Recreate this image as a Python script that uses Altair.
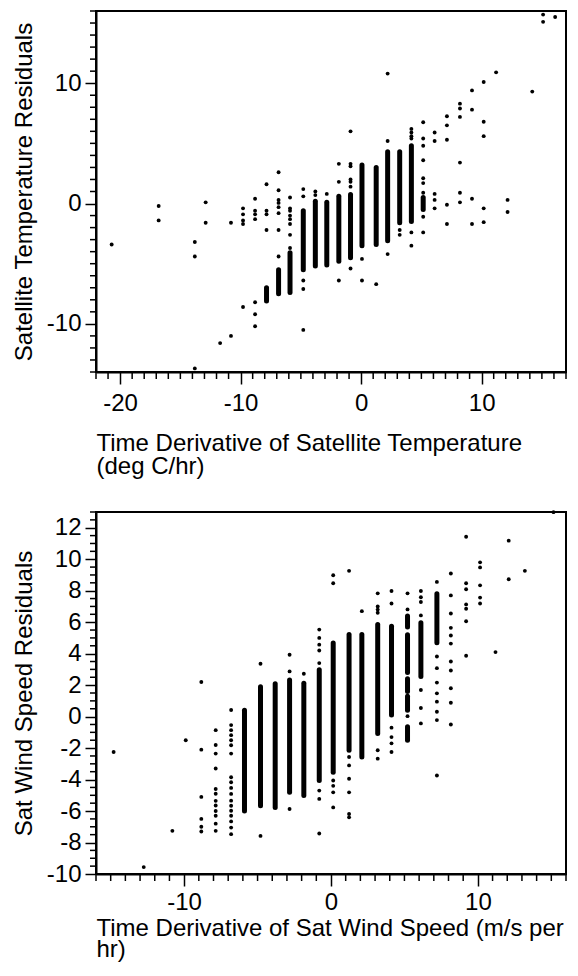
import altair as alt
import pandas as pd

FONT = "Liberation Sans"

# ---------------- Top panel: Satellite Temperature ----------------
# isolated points, grouped by column (x value, list of y values)
top_pt_x = [-20.7, -16.8, -13.8, -12.9, -11.7, -10.8, -9.8, -8.8, -7.85, -6.85,
            -5.9, -4.8, -3.8, -2.85, -1.85, -0.88, 0.07, 1.25, 2.2, 3.2,
            4.17, 5.15, 6.1, 7.12, 8.2, 9.2, 10.17, 11.2, 12.15, 14.2, 15.1, 16.1]
top_pt_y = [
    [-3.4],
    [-0.2, -1.4],
    [-3.2, -4.4, -13.7],
    [0.1, -1.6],
    [-11.6],
    [-1.6, -11.0],
    [-0.4, -0.9, -1.4, -1.7, -8.6],
    [0.4, -0.6, -0.9, -1.3, -8.2, -9.2, -10.2],
    [1.6, -0.6, -0.9, -2.2],
    [2.6, 1.1, 0.3, 0.05, -0.3, -0.8, -2.2, -4.4],
    [0.5, -0.4, -0.6, -1.0, -1.3, -1.7, -2.6, -3.7],
    [1.2, 0.6, -6.4, -7.1, -10.5],
    [1.0, 0.7],
    [0.8],
    [3.3, 1.8, -6.4],
    [6.0, 3.3, 3.1, 2.0, 1.8, 1.4, -5.4],
    [-4.6, -6.4],
    [-6.7],
    [10.8, 5.2, -4.2],
    [-2.2, -2.6],
    [6.2, 5.9, 5.6, 5.4, -2.4, -3.5],
    [6.75, 5.4, 4.8, 3.6, 2.1, 1.7, 0.9, -1.1, -2.4],
    [5.9, 5.2, 0.8, 0.3, -0.4],
    [7.25, 6.5, 5.3, -0.1, -1.7],
    [8.3, 7.9, 7.2, 3.4, 0.9, 0.1],
    [9.4, 7.8, 0.4, -1.7],
    [10.1, 6.8, 5.6, -0.4, -1.55],
    [10.9],
    [0.3, -0.7],
    [9.3],
    [15.7, 15.1],
    [15.5],
]
# dense vertical runs of points (x, top, bottom)
top_seg_x = [-7.85, -6.85, -5.9, -4.8, -3.8, -2.85, -1.85, -0.88, 0.07, 1.25, 2.2, 3.2, 4.17, 5.15]
top_seg_hi = [-7.0, -5.5, -4.1, -0.6, 0.2, 0.1, 0.6, 0.75, 3.2, 3.0, 4.3, 4.3, 4.8, 0.5]
top_seg_lo = [-8.1, -7.5, -7.4, -5.5, -5.2, -5.1, -4.8, -4.5, -3.5, -3.4, -3.1, -1.6, -1.5, -0.5]

# ---------------- Bottom panel: Sat Wind Speed ----------------
bot_pt_x = [-14.8, -12.75, -10.8, -9.89, -8.83, -7.85, -6.8, -4.8, -2.82, -1.85,
            -0.8, 0.15, 1.23, 2.1, 3.18, 4.12, 5.21, 6.12, 7.21, 8.16,
            9.2, 10.15, 11.2, 12.1, 13.2, 15.15]
bot_pt_y = [
    [-2.25],
    [-9.56],
    [-7.26],
    [-1.5],
    [2.2, -2.1, -5.1, -6.5, -7.0, -7.3],
    [-0.86, -1.8, -2.35, -3.3, -4.6, -4.9, -5.35, -5.65, -6.0, -6.3, -6.8, -7.26],
    [0.42, -0.54, -0.86, -1.18, -1.5, -1.82, -2.35, -3.85, -4.17, -4.53, -4.91,
     -5.34, -5.66, -5.98, -6.3, -6.66, -7.05, -7.47],
    [3.36, -7.58],
    [3.93, 2.87, -5.87],
    [2.72],
    [5.53, 5.0, 4.57, 4.2, 3.4, -4.7, -5.23, -7.43],
    [8.98, 8.47, -4.06, -4.4, -4.81, -5.77],
    [9.26, -2.57, -3.1, -3.95, -4.81, -6.19, -6.4],
    [6.7],
    [7.83, 7.0, 6.8, 6.6, -2.14, -2.67],
    [7.98, 7.19, -0.7, -1.3, -1.7, -2.25],
    [7.83, 6.81, 0.03],
    [7.98, 7.58, 7.28, 6.43, 1.69, 0.55, -0.43],
    [8.56, 3.82, 3.08, 2.16, 1.48, 0.95, 0.31, -0.22, -3.74],
    [9.09, 7.7, 6.55, 5.64, 5.15, 4.64, 3.5, 2.93, 1.8, 0.88, -0.5],
    [11.43, 8.47, 8.09, 7.13, 6.85, 6.06, 3.87],
    [9.8, 9.48, 8.34, 7.56, 7.19],
    [4.1],
    [11.18, 8.73],
    [9.26],
    [12.99],
]
bot_seg_x = [-5.89, -4.8, -3.8, -2.82, -1.85, -0.8, 0.15, 1.23, 2.1, 3.18, 4.12,
             5.21, 5.21, 5.21, 5.21, 5.21, 6.12, 7.21]
bot_seg_hi = [0.4, 1.9, 2.08, 2.33, 2.12, 2.97, 4.68, 5.21, 5.21, 5.85, 5.74,
              6.4, 5.2, 2.4, 1.3, -0.65, 5.96, 7.8]
bot_seg_lo = [-6.0, -5.66, -5.77, -4.81, -5.02, -4.06, -3.53, -2.14, -2.57, -1.07, 0.1,
              5.7, 2.8, 1.6, 0.4, -1.5, 2.55, 4.7]

# axis tick values
top_x_major = [-20, -10, 0, 10]
top_x_minor = [v for v in range(-22, 18) if v % 10 != 0]
top_y_major = [-10, 0, 10]
top_y_minor = [v for v in range(-14, 17) if v % 10 != 0]
bot_x_major = [-10, 0, 10]
bot_x_minor = [v for v in range(-16, 17) if v % 10 != 0]
bot_y_major = list(range(-10, 13, 2))
bot_y_minor = [v / 2 for v in range(-20, 27) if v % 4 != 0]


def flatten(xs, ys):
    fx, fy = [], []
    for x, col in zip(xs, ys):
        for y in col:
            fx.append(x)
            fy.append(y)
    return pd.DataFrame({"x": fx, "y": fy})


def panel(pts, segs, xdom, ydom, xmaj, xmin, ymaj, ymin, xtitle, ytitle, w, h,
          xlabpad, xtitlepad, xlineh):
    xs = alt.Scale(domain=xdom, nice=False, zero=False)
    ys = alt.Scale(domain=ydom, nice=False, zero=False)
    xaxis = alt.Axis(
        values=xmaj,
        labelExpr="toString(datum.value)",
        tickSize=12,
        labelPadding=xlabpad,
        labelOverlap=False,
        title=xtitle,
        titleAnchor="start",
        titleAlign="left",
        titlePadding=xtitlepad,
        titleLineHeight=xlineh,
    )
    yaxis = alt.Axis(
        values=ymaj,
        labelExpr="toString(datum.value)",
        tickSize=11,
        labelPadding=4,
        labelOverlap=False,
        title=ytitle,
        titlePadding=10,
    )
    rules = alt.Chart(segs).mark_rule(strokeWidth=5, strokeCap="round", color="black").encode(
        x=alt.X("x:Q", scale=xs, axis=xaxis),
        y=alt.Y("y:Q", scale=ys, axis=yaxis),
        y2="y2:Q",
    )
    dots = alt.Chart(pts).mark_circle(size=15, color="black", opacity=1).encode(
        x=alt.X("x:Q", scale=xs, axis=xaxis),
        y=alt.Y("y:Q", scale=ys, axis=yaxis),
    )
    xminor = alt.Chart(pd.DataFrame({"v": xmin})).mark_rule(
        color="black", strokeWidth=1.5
    ).encode(
        x=alt.X("v:Q", scale=xs, axis=xaxis),
        y=alt.value(h),
        y2=alt.value(h + 7),
    )
    yminor = alt.Chart(pd.DataFrame({"v": ymin})).mark_rule(
        color="black", strokeWidth=1.5
    ).encode(
        y=alt.Y("v:Q", scale=ys, axis=yaxis),
        x=alt.value(-6),
        x2=alt.value(0),
    )
    return alt.layer(rules, dots, xminor, yminor).properties(width=w, height=h)


top_pts = flatten(top_pt_x, top_pt_y)
top_segs = pd.DataFrame({"x": top_seg_x, "y": top_seg_hi, "y2": top_seg_lo})
bot_pts = flatten(bot_pt_x, bot_pt_y)
bot_segs = pd.DataFrame({"x": bot_seg_x, "y": bot_seg_hi, "y2": bot_seg_lo})

top = panel(
    top_pts, top_segs, [-22, 17], [-14, 16],
    top_x_major, top_x_minor, top_y_major, top_y_minor,
    ["Time Derivative of Satellite Temperature", "(deg C/hr)"],
    "Satellite Temperature Residuals", 470, 361,
    7, 16, 23,
)
bottom = panel(
    bot_pts, bot_segs, [-16, 16], [-10, 13],
    bot_x_major, bot_x_minor, bot_y_major, bot_y_minor,
    ["Time Derivative of Sat Wind Speed (m/s per", "hr)"],
    "Sat Wind Speed Residuals", 470, 362,
    4, 2, 21,
)

chart = alt.vconcat(top, bottom, spacing=140, bounds="flush").properties(
    padding={"left": 3, "top": 1, "right": 0, "bottom": 0}
).configure_view(
    stroke="black", strokeWidth=2
).configure_axis(
    domainColor="black", domainWidth=2, tickColor="black", tickWidth=1.5,
    labelColor="black", titleColor="black", labelFont=FONT, titleFont=FONT,
    labelFontSize=24, titleFontSize=24, titleFontWeight="normal", grid=False,
)

chart.save("out.html", embed_options={"renderer": "svg", "actions": False})
